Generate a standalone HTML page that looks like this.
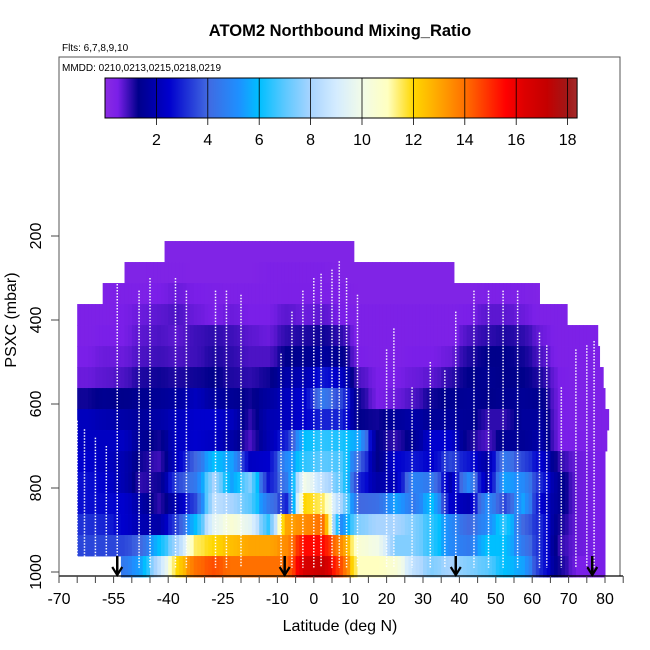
<!DOCTYPE html>
<html><head><meta charset="utf-8"><style>
body{margin:0;background:#fff;}
svg{display:block;font-family:"Liberation Sans",Arial,sans-serif;}
</style></head><body>
<svg id="chart" width="650" height="650" viewBox="0 0 650 650" xmlns="http://www.w3.org/2000/svg">
<rect width="650" height="650" fill="#fff"/>
<text x="340" y="36" text-anchor="middle" font-size="16.5" font-weight="bold">ATOM2 Northbound Mixing_Ratio</text>
<text x="62" y="51" font-size="10">Flts: 6,7,8,9,10</text>
<g id="heat"></g>
<g id="profiles"></g>
<g id="arrows"></g>
<rect x="59" y="57" width="561" height="519" fill="none" stroke="#555" stroke-width="1"/>
<text x="62" y="71" font-size="10">MMDD: 0210,0213,0215,0218,0219</text>
<defs><linearGradient id="cbgrad" x1="0" x2="1" y1="0" y2="0"></linearGradient></defs>
<g id="colorbar"></g>
<g id="xaxis"></g>
<g id="yaxis"></g>
<text x="340" y="631" text-anchor="middle" font-size="16">Latitude (deg N)</text>
<text transform="translate(16,320) rotate(-90)" text-anchor="middle" font-size="16">PSXC (mbar)</text>
</svg>
<script>
// ---- data ----
const latBins = [-65,-60,-55,-50,-45,-40,-35,-30,-25,-20,-15,-10,-5,0,5,10,15,20,25,30,35,40,45,50,55,60,65,70,75];
const presBins = [212,262,312,362,412,462,512,562,612,662,712,762,812,862,912,962];
const rowLatMin = [-41,-52,-58,-65,-65,-65,-65,-65,-65,-65,-65,-65,-65,-65,-65,-53];
const rowLatMax = [11,38.5,62,69.6,78,78.5,79.5,80,81,80.5,80,80,80,80,80,80];
const r0 = [0.3,0.3,0.3,0.3,0.3,0.3,0.3,0.3,0.3,0.3,0.3,0.3,0.3,0.3,0.3,0.3,0.3,0.3,0.3,0.3,0.3,0.3,0.3,0.3,0.3,0.3,0.3,0.3,0.3];
const r1 = [0.3,0.3,0.3,0.3,0.35,0.35,0.3,0.3,0.3,0.3,0.4,0.4,0.4,0.4,0.3,0.3,0.3,0.3,0.3,0.3,0.3,0.3,0.3,0.3,0.3,0.3,0.3,0.3,0.3];
const r2 = [0.4,0.4,0.4,0.4,0.5,0.6,0.5,0.45,0.4,0.4,0.4,0.45,0.45,0.45,0.4,0.3,0.3,0.3,0.3,0.3,0.3,0.3,0.4,0.4,0.4,0.3,0.3,0.3,0.3];
const r3 = [0.4,0.4,0.5,0.6,0.7,0.8,0.6,0.5,0.6,0.5,0.5,0.7,0.6,0.7,0.5,0.4,0.4,0.4,0.4,0.4,0.4,0.5,0.7,0.7,0.6,0.4,0.4,0.4,0.4];
const r4 = [0.4,0.5,0.5,0.7,0.8,0.7,0.9,1.0,0.9,0.7,0.6,1.0,1.1,1.2,1.0,0.4,0.4,0.4,0.4,0.4,0.4,0.8,1.0,1.1,1.0,0.6,0.4,0.4,0.4];
const r5 = [0.5,0.6,0.6,0.8,0.9,0.8,0.9,1.1,1.0,0.8,0.8,1.3,1.4,1.6,1.4,0.5,0.4,0.4,0.5,0.5,0.6,1.1,1.3,1.3,1.2,0.8,0.4,0.4,0.4];
const r6 = [0.6,0.7,0.8,1.1,1.2,1.1,1.2,1.3,1.1,1.0,1.2,1.8,2.0,2.8,2.3,0.8,0.5,0.5,0.6,0.7,1.0,1.3,1.4,1.3,1.3,1.1,0.5,0.4,0.4];
const r7 = [1.2,1.4,1.3,1.4,1.5,1.7,2.2,1.7,1.5,1.2,1.7,2.2,2.5,4.5,3.5,1.2,0.5,0.6,0.8,1.2,1.4,1.5,1.3,1.4,1.5,1.4,0.5,0.4,0.4];
const r8 = [2.2,2.0,1.8,1.6,1.8,2.2,2.5,2.5,2.2,1.0,2.0,2.2,2.5,3.0,3.0,1.3,1.2,1.6,1.8,1.5,1.6,1.5,1.0,1.0,1.6,1.6,0.5,0.4,0.4];
const r9 = [2.3,2.3,2.3,1.5,1.2,2.3,2.5,2.3,1.8,0.8,2.0,3.0,6.0,6.5,6.3,5.5,1.3,1.0,1.5,2.5,2.5,1.2,0.8,1.5,1.5,1.8,0.5,0.5,0.4];
const r10 = [2.5,2.3,2.0,1.2,0.9,2.3,4.0,6.0,5.5,2.3,2.5,5.0,6.5,7.0,6.8,4.0,1.3,2.5,2.8,2.5,3.5,2.8,1.8,4.5,3.5,2.5,1.0,0.6,0.5];
const r11 = [2.7,2.5,2.0,1.0,1.2,3.5,4.5,8.0,5.5,7.5,2.8,4.5,10.0,8.5,7.0,3.0,1.8,2.2,4.8,4.5,2.0,5.0,2.0,5.5,5.0,3.0,1.5,0.6,0.5];
const r12 = [2.7,2.6,2.5,1.8,1.0,2.0,3.5,8.5,8.0,7.0,4.5,3.0,12.0,11.5,8.0,4.0,4.2,5.5,4.5,6.0,2.5,2.0,5.0,3.5,5.5,2.5,1.5,0.6,0.5];
const r13 = [3.2,3.0,2.5,2.0,1.8,3.5,6.0,9.5,10.5,9.5,6.5,13.0,13.5,14.0,5.0,7.5,8.0,8.0,7.5,6.5,5.0,4.0,5.0,6.5,4.0,3.0,1.2,0.6,0.5];
const r14 = [3.5,3.5,3.5,4.0,6.0,8.0,11.5,12.0,12.5,13.0,13.0,13.5,15.5,15.5,13.5,10.5,10.0,7.5,7.5,6.5,5.0,4.5,6.0,6.0,4.5,3.0,1.0,0.6,0.5];
const r15 = [4.5,4.5,4.5,5.5,8.5,12.0,14.0,14.5,14.0,14.0,14.0,14.0,16.5,17.0,14.5,11.0,11.0,10.5,8.5,7.5,8.0,7.5,7.0,6.0,5.5,3.0,1.2,0.5,0.5];
const gridValues = [r0,r1,r2,r3,r4,r5,r6,r7,r8,r9,r10,r11,r12,r13,r14,r15];
const xTickLabels = [-70,-55,-40,-25,-10,0,10,20,30,40,50,60,70,80];
const yTickLabels = [200,400,600,800,1000];
const cbTickLabels = [2,4,6,8,10,12,14,16,18];
const profileLats = [-65,-63,-60,-57,-54,-48,-45,-38,-35,-27,-24,-20,-9,-6,-3,0,2,5,7,9,12,20,22,27,32,36,39,44,48,52,56,62,64,68,72,75,77];
const profileTops = [640,660,680,700,300,330,300,300,330,330,330,340,480,380,330,300,290,280,260,300,340,470,420,560,500,520,380,330,330,330,330,430,460,560,470,460,450];
const arrowLats = [-54,-8,39,76.5];

// ---- scales ----
const xS = lat => 59 + (lat + 70) * 3.64;
const yS = p => 236 + (p - 200) * 0.42;
const cbX = v => 105 + v * 25.7;
const cmapStops = [[0,'#8a2be2'],[0.5,'#7a1fe8'],[1.3,'#00008b'],[2.5,'#0000cd'],[4,'#4169e1'],[5.2,'#1e90ff'],[6,'#00bfff'],[7,'#5cc8ff'],[8,'#a8d4ff'],[9,'#d4ecff'],[10,'#f2fbe8'],[11,'#ffffc0'],[12,'#ffd700'],[13,'#ffa500'],[14,'#ff7000'],[15,'#ff2a00'],[15.6,'#ff0000'],[16.3,'#dd0000'],[17.2,'#c40000'],[18,'#a01818'],[18.4,'#a52a2a']];
function hex(c){return [parseInt(c.slice(1,3),16),parseInt(c.slice(3,5),16),parseInt(c.slice(5,7),16)];}
function cmap(v){
  if(v<=cmapStops[0][0]) return cmapStops[0][1];
  for(let i=1;i<cmapStops.length;i++){
    if(v<=cmapStops[i][0]){
      const a=cmapStops[i-1],b=cmapStops[i],t=(v-a[0])/(b[0]-a[0]);
      const ca=hex(a[1]),cb=hex(b[1]);
      return 'rgb('+ca.map((x,k)=>Math.round(x+(cb[k]-x)*t)).join(',')+')';
    }
  }
  return cmapStops[cmapStops.length-1][1];
}
const NS='http://www.w3.org/2000/svg';
function mk(tag,attrs,parent){const e=document.createElementNS(NS,tag);for(const k in attrs)e.setAttribute(k,attrs[k]);parent.appendChild(e);return e;}

// heatmap: each cell split into 1-degree strips, colour blended toward neighbours
const heat=document.getElementById('heat');
gridValues.forEach((row,ri)=>{
  const p0=presBins[ri],p1=p0+50;
  row.forEach((v,ci)=>{
    const cellStart=latBins[ci];
    const cellEnd=(ci===latBins.length-1)?rowLatMax[ri]:cellStart+5;
    const g=mk('g',{},heat);
    
    
    for(let s=0;s<5;s++){
      let l0=Math.max(cellStart+s,rowLatMin[ri]);
      let l1=Math.min(cellStart+s+1,cellEnd,rowLatMax[ri]);
      if(s===4) l1=Math.min(cellEnd,rowLatMax[ri]);
      if(l1<=l0) continue;
      const c=cellStart+s+0.5-(cellStart+2.5);
      let vv=v;
      if(c<0 && ci>0) vv=v+(row[ci-1]-v)*(-c/5)*0.8;
      if(c>0 && ci<row.length-1) vv=v+(row[ci+1]-v)*(c/5)*0.8;
      mk('rect',{x:xS(l0),y:yS(p0),width:xS(l1)-xS(l0)+0.5,height:yS(p1)-yS(p0)+0.4,fill:cmap(vv)},g);
    }
  });
});
// profiles
const prof=document.getElementById('profiles');
profileLats.forEach((lat,i)=>{
  const ln=mk('line',{x1:xS(lat),x2:xS(lat),y1:yS(profileTops[i]),y2:yS(990),stroke:'#fff','stroke-width':1.5,'stroke-dasharray':'1.5,1.5',opacity:0.95},prof);
  
  
});
// arrows
const arr=document.getElementById('arrows');
arrowLats.forEach(lat=>{
  const g=mk('g',{},arr);
  
  
  const x=xS(lat);
  mk('line',{x1:x,x2:x,y1:556,y2:575,stroke:'#000','stroke-width':2.5},g);
  mk('path',{d:`M${x-5},${567} L${x},${575} L${x+5},${567}`,fill:'none',stroke:'#000','stroke-width':2.2},g);
});
// colorbar
const grad=document.getElementById('cbgrad');
cmapStops.forEach(s=>{mk('stop',{offset:(cbX(s[0])-cbX(0))/(cbX(18.37)-cbX(0)),'stop-color':s[1]},grad);});
const cb=document.getElementById('colorbar');
mk('rect',{x:cbX(0),y:78,width:cbX(18.37)-cbX(0),height:40,fill:'url(#cbgrad)',stroke:'#000','stroke-width':1},cb);
cbTickLabels.forEach(v=>{
  const x=cbX(v);
  mk('line',{x1:x,x2:x,y1:78,y2:125,stroke:'#000','stroke-width':0.8},cb);
  const t=mk('text',{x:x,y:145,'text-anchor':'middle','font-size':16},cb);
  t.textContent=v;
  
  
});
// x axis
const xa=document.getElementById('xaxis');
mk('line',{x1:59,x2:623,y1:576,y2:576,stroke:'#000','stroke-width':1.2},xa);
for(let lat=-70;lat<=85;lat+=5){const x=xS(lat);mk('line',{x1:x,x2:x,y1:576,y2:583,stroke:'#444','stroke-width':1},xa);}
xTickLabels.forEach(lat=>{
  const t=mk('text',{x:xS(lat),y:604,'text-anchor':'middle','font-size':16},xa);
  t.textContent=lat;
  
  
});
// y axis
const ya=document.getElementById('yaxis');
mk('line',{x1:59,x2:59,y1:57,y2:576,stroke:'#555','stroke-width':1},ya);
yTickLabels.forEach(p=>{
  const y=yS(p);
  mk('line',{x1:51,x2:59,y1:y,y2:y,stroke:'#444','stroke-width':1},ya);
  const t=mk('text',{transform:`translate(41,${y}) rotate(-90)`,'text-anchor':'middle','font-size':16},ya);
  t.textContent=p;
  
  
});
</script>
</body></html>
